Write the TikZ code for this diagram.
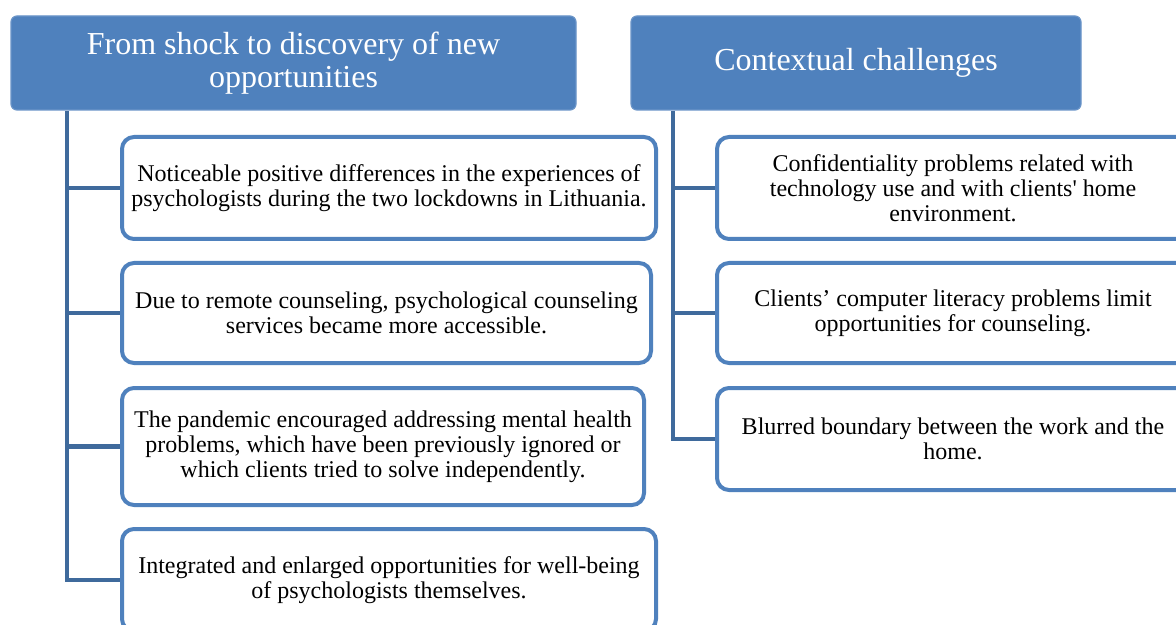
\documentclass[tikz,border=0pt]{standalone}
\usepackage{fontspec}
\setmainfont{Liberation Serif}
\definecolor{headblue}{HTML}{4F81BD}
\definecolor{headrim}{HTML}{6A94C8}
\definecolor{linkblue}{HTML}{3F6A9C}
\tikzset{
  head/.style={shape=rectangle, rounded corners=3pt, fill=headblue, draw=headrim, line width=0.6pt,
    text=white, align=center, font=\fontsize{16}{16.5}\selectfont, inner sep=0pt},
  item/.style={shape=rectangle, rounded corners=6pt, fill=white, draw=headblue, line width=2pt,
    align=center, font=\fontsize{12}{12.5}\selectfont, inner sep=0pt},
  link/.style={draw=linkblue, line width=2.2pt}
}
\begin{document}
\begin{tikzpicture}[x=0.5pt, y=-0.5pt]
		\clip (0,0) rectangle (1176,625);
		\fill[white] (0,0) rectangle (1176,625);

		\node (h1) at (293.5,63) [head, minimum width=282.5pt, minimum height=47pt] {From shock to discovery of new\\ opportunities};
		\node (h2) at (856,63) [head, minimum width=225pt, minimum height=47pt] {Contextual challenges};

		\node (b1) at (389,188) [item, minimum width=267pt, minimum height=51pt] {Noticeable positive differences in the experiences of\\ psychologists during the two lockdowns in Lithuania.};
		\node (b2) at (386.5,313) [item, minimum width=264.5pt, minimum height=50pt] {Due to remote counseling, psychological counseling\\ services became more accessible.};
		\node (b3) at (383,446.5) [item, minimum width=261pt, minimum height=58.5pt] {The pandemic encouraged addressing mental health\\ problems, which have been previously ignored or\\ which clients tried to solve independently.};
		\node (b4) at (389,580) [item, minimum width=267pt, minimum height=51pt] {Integrated and enlarged opportunities for well-being\\ of psychologists themselves.};

		\node (c1) at (953,188) [item, minimum width=236pt, minimum height=51pt] {Confidentiality problems related with\\ technology use and with clients\textquotesingle{} home\\ environment.};
		\node (c2) at (953,313) [item, minimum width=236pt, minimum height=50pt] {Clients’ computer literacy problems limit\\ opportunities for counseling.};
		\node (c3) at (953,439) [item, minimum width=236pt, minimum height=51pt] {Blurred boundary between the work and the\\ home.};

		\coordinate (s1) at (67,111);
		\coordinate (s2) at (673,111);

		\draw[link] (s1) |- (b4.west);
		\draw[link] (s1 |- b1.west) -- (b1.west);
		\draw[link] (s1 |- b2.west) -- (b2.west);
		\draw[link] (s1 |- b3.west) -- (b3.west);

		\draw[link] (s2) |- (c3.west);
		\draw[link] (s2 |- c1.west) -- (c1.west);
		\draw[link] (s2 |- c2.west) -- (c2.west);
	\end{tikzpicture}
\end{document}
